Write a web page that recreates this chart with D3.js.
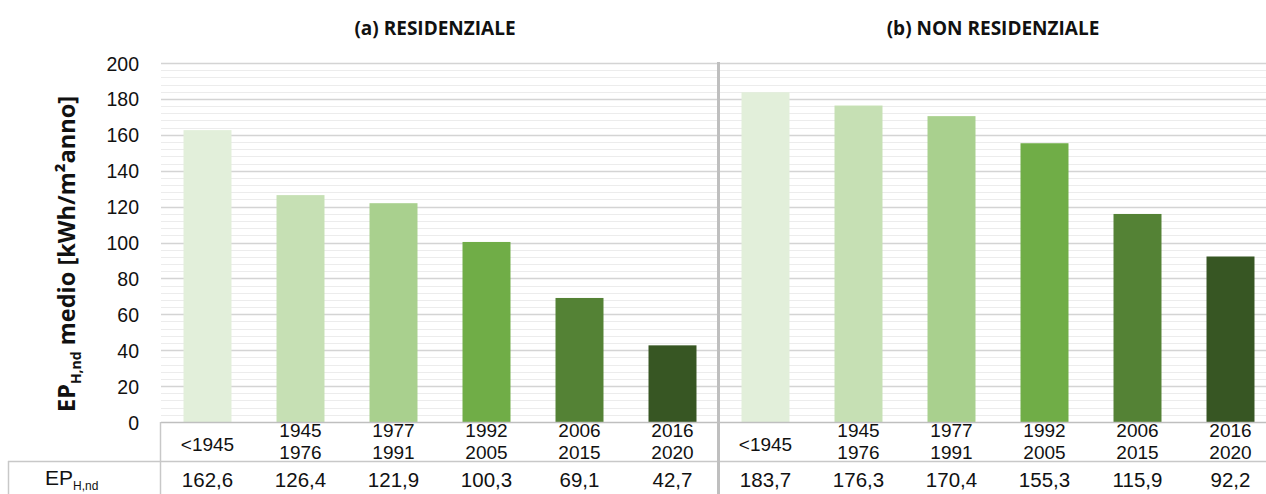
<!DOCTYPE html>
<html><head><meta charset="utf-8">
<script src="https://cdn.jsdelivr.net/npm/d3@7"></script>
<style>body{margin:0;background:#fff;} svg{display:block;}</style>
</head><body>
<script>
const categories = ["<1945", "1945\n1976", "1977\n1991", "1992\n2005", "2006\n2015", "2016\n2020"];
const residenziale = [162.6, 126.4, 121.9, 100.3, 69.1, 42.7];
const nonResidenziale = [183.7, 176.3, 170.4, 155.3, 115.9, 92.2];
const panelTitles = ["(a) RESIDENZIALE", "(b) NON RESIDENZIALE"];
const yTicks = [0, 20, 40, 60, 80, 100, 120, 140, 160, 180, 200];
const minorTicks = d3.range(0, 201, 4).filter(v => v % 20 !== 0);
const colors = ["#e2efda", "#c6e0b4", "#a9d08e", "#70ad47", "#548235", "#375623"];

const W = 1266, H = 494;
const svg = d3.select("body").append("svg").attr("width", W).attr("height", H);
const y = d3.scaleLinear().domain([0, 200]).range([422, 63]);
const plotLeft = 161, divX = 719, plotRight = 1277;
const font = "'Liberation Sans', Arial, sans-serif";
const boldFont = "'Open Sans', sans-serif";

const panels = [
  {vals: residenziale, x: d3.scaleBand().domain(categories).range([plotLeft, divX]).paddingInner(0.484).paddingOuter(0.242), title: panelTitles[0]},
  {vals: nonResidenziale, x: d3.scaleBand().domain(categories).range([divX, plotRight]).paddingInner(0.484).paddingOuter(0.242), title: panelTitles[1]}
];

// gridlines
svg.append("g").selectAll("line").data(minorTicks).join("line")
  .attr("x1", plotLeft).attr("x2", W).attr("y1", d => Math.round(y(d)) + 0.5).attr("y2", d => Math.round(y(d)) + 0.5)
  .attr("stroke", "#ececec").attr("stroke-width", 1);
svg.append("g").selectAll("line").data(yTicks.filter(d => d > 0)).join("line")
  .attr("x1", plotLeft).attr("x2", W).attr("y1", d => Math.round(y(d)) + 0.5).attr("y2", d => Math.round(y(d)) + 0.5)
  .attr("stroke", "#d4d4d4").attr("stroke-width", 1.6);

// y axis tick labels
const yAxis = d3.axisLeft(y).tickValues(yTicks).tickSize(0).tickPadding(0);
const yg = svg.append("g").attr("transform", "translate(139,0)").call(yAxis);
yg.select(".domain").remove();
yg.selectAll("text").attr("font-family", font).attr("font-size", 19.5).attr("fill", "#111").attr("dy", "0.36em");

// bars
panels.forEach(p => {
  svg.append("g").selectAll("rect").data(p.vals).join("rect")
    .attr("x", (d, i) => p.x(categories[i])).attr("width", p.x.bandwidth())
    .attr("y", d => y(d)).attr("height", d => y(0) - y(d))
    .attr("fill", (d, i) => colors[i]);
  const rng = p.x.range();
  svg.append("text").attr("x", (rng[0] + rng[1]) / 2 - 5).attr("y", 35)
    .attr("text-anchor", "middle").attr("font-family", boldFont).attr("font-weight", "bold")
    .attr("font-size", 19).attr("fill", "#111").text(p.title);
  // category labels
  const cg = svg.append("g");
  categories.forEach((c, i) => {
    const cx = p.x(c) + p.x.bandwidth() / 2;
    const lines = c.split("\n");
    const t = cg.append("text").attr("text-anchor", "middle").attr("font-family", font).attr("font-size", 19).attr("fill", "#111");
    if (lines.length === 1) {
      t.append("tspan").attr("x", cx).attr("y", 451).text(lines[0]);
    } else {
      t.append("tspan").attr("x", cx).attr("y", 437).text(lines[0]);
      t.append("tspan").attr("x", cx).attr("y", 458.5).text(lines[1]);
    }
    cg.append("text").attr("x", cx).attr("y", 487).attr("text-anchor", "middle")
      .attr("font-family", font).attr("font-size", 20.5).attr("fill", "#111")
      .text(d3.format(".1f")(p.vals[i]).replace(".", ","));
  });
});

// axis baseline and table lines
svg.append("line").attr("x1", plotLeft).attr("x2", W).attr("y1", 422.5).attr("y2", 422.5).attr("stroke", "#bfbfbf").attr("stroke-width", 1.5);
svg.append("line").attr("x1", 8).attr("x2", W).attr("y1", 461.5).attr("y2", 461.5).attr("stroke", "#c8c8c8").attr("stroke-width", 1.5);
svg.append("line").attr("x1", 160.5).attr("x2", 160.5).attr("y1", 422).attr("y2", H).attr("stroke", "#c8c8c8").attr("stroke-width", 1.5);
svg.append("line").attr("x1", 8.5).attr("x2", 8.5).attr("y1", 461).attr("y2", H).attr("stroke", "#c8c8c8").attr("stroke-width", 1.5);
svg.append("line").attr("x1", 718.5).attr("x2", 718.5).attr("y1", 62).attr("y2", H).attr("stroke", "#bfbfbf").attr("stroke-width", 3);

// table row label
const tl = svg.append("text").attr("x", 45).attr("y", 485).attr("font-family", font).attr("font-size", 21).attr("fill", "#111");
tl.append("tspan").text("EP");
tl.append("tspan").attr("font-size", 12).attr("dy", 5).text("H,nd");

// y axis title
const yt = svg.append("text").attr("transform", "translate(75,254) rotate(-90)").attr("text-anchor", "middle")
  .attr("font-family", boldFont).attr("font-weight", "bold").attr("font-size", 23.5).attr("fill", "#111");
yt.append("tspan").text("EP");
yt.append("tspan").attr("font-size", 14).attr("dy", 6).text("H,nd");
yt.append("tspan").attr("dy", -6).text(" medio [kWh/m²anno]");
</script>
</body></html>
